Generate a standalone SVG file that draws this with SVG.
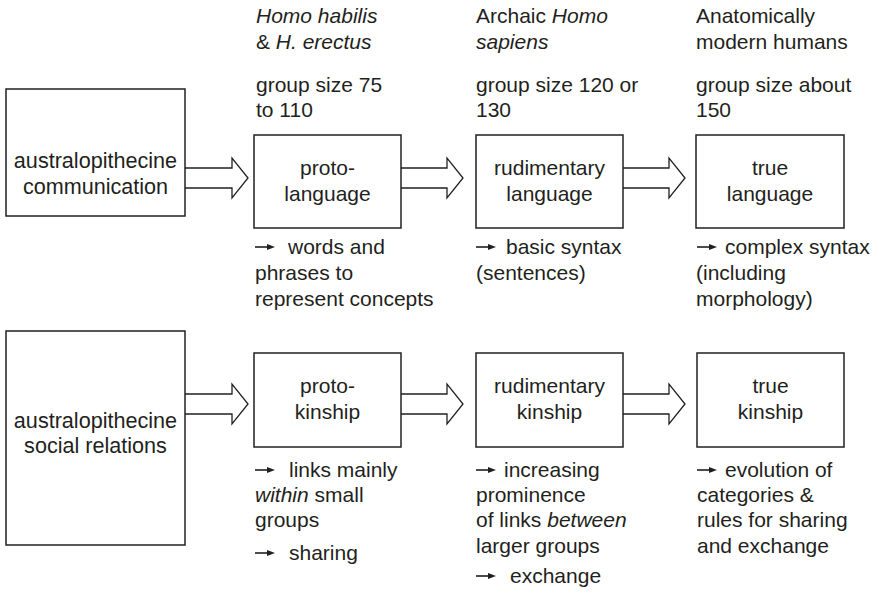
<svg xmlns="http://www.w3.org/2000/svg" xmlns:xlink="http://www.w3.org/1999/xlink" width="880" height="593" viewBox="0 0 880 593">
<style>
text{font-family:"Liberation Sans",Arial,sans-serif;font-size:21px;fill:#231f20}
.c{text-anchor:middle}
.i{font-style:italic}
.big{font-size:21.6px}
.box{fill:#fff;stroke:#231f20;stroke-width:1.5}
.blk{fill:#fff;stroke:#231f20;stroke-width:1.3;stroke-linejoin:miter}
</style>
<defs>
<g id="sa"><line x1="0" y1="0" x2="14" y2="0" stroke="#231f20" stroke-width="1.6"/><polygon points="12,-3 20,0 12,3" fill="#231f20"/></g>
</defs>
<rect width="880" height="593" fill="#fff"/>
<g id="headers">
<text x="256" y="23" class="i">Homo habilis</text>
<text x="256" y="49">&amp; <tspan class="i">H. erectus</tspan></text>
<text x="256" y="92">group size 75</text>
<text x="256" y="117">to 110</text>
<text x="476" y="23">Archaic <tspan class="i">Homo</tspan></text>
<text x="476" y="49" class="i">sapiens</text>
<text x="476" y="92">group size 120 or</text>
<text x="476" y="117">130</text>
<text x="696" y="23">Anatomically</text>
<text x="696" y="49">modern humans</text>
<text x="696" y="92">group size about</text>
<text x="696" y="117">150</text>
</g>
<g id="connectors">
<path class="blk" d="M185,168 H232 V158 L248,178 L232,198 V188 H185"/>
<path class="blk" d="M401,168 H447 V158 L463,178 L447,198 V188 H401"/>
<path class="blk" d="M623,168 H669 V158 L685,178 L669,198 V188 H623"/>
<path class="blk" d="M185,394 H232 V384 L248,404 L232,424 V414 H185"/>
<path class="blk" d="M401,394 H447 V384 L463,404 L447,424 V414 H401"/>
<path class="blk" d="M623,394 H669 V384 L685,404 L669,424 V414 H623"/>
</g>
<g id="aus-comm">
<rect class="box" x="6" y="89" width="179" height="127"/>
<text x="95.5" y="168" class="c big">australopithecine</text>
<text x="95.5" y="194" class="c big">communication</text>
</g>
<g id="proto-language">
<rect class="box" x="254" y="135" width="147" height="93"/>
<text x="327.5" y="175" class="c">proto-</text>
<text x="327.5" y="201" class="c">language</text>
</g>
<g id="rud-language">
<rect class="box" x="476" y="135" width="147" height="93"/>
<text x="549.5" y="175" class="c">rudimentary</text>
<text x="549.5" y="201" class="c">language</text>
</g>
<g id="true-language">
<rect class="box" x="696" y="135" width="148" height="93"/>
<text x="770" y="175" class="c">true</text>
<text x="770" y="201" class="c">language</text>
</g>
<g id="aus-social">
<rect class="box" x="6" y="331" width="179" height="214"/>
<text x="95.5" y="428" class="c big">australopithecine</text>
<text x="95.5" y="453" class="c big">social relations</text>
</g>
<g id="proto-kinship">
<rect class="box" x="254" y="353" width="147" height="94"/>
<text x="327.5" y="393" class="c">proto-</text>
<text x="327.5" y="419" class="c">kinship</text>
</g>
<g id="rud-kinship">
<rect class="box" x="476" y="353" width="147" height="94"/>
<text x="549.5" y="393" class="c">rudimentary</text>
<text x="549.5" y="419" class="c">kinship</text>
</g>
<g id="true-kinship">
<rect class="box" x="697" y="353" width="147" height="94"/>
<text x="770.5" y="393" class="c">true</text>
<text x="770.5" y="419" class="c">kinship</text>
</g>
<g id="notes">
<use xlink:href="#sa" x="255" y="247"/>
<text x="288" y="254">words and</text>
<text x="255" y="280">phrases to</text>
<text x="255" y="306">represent concepts</text>
<use xlink:href="#sa" x="476" y="247"/>
<text x="506" y="254">basic syntax</text>
<text x="476" y="280">(sentences)</text>
<use xlink:href="#sa" x="697" y="247"/>
<text x="725" y="254">complex syntax</text>
<text x="696" y="280">(including</text>
<text x="696" y="306">morphology)</text>
<use xlink:href="#sa" x="255" y="470"/>
<text x="289" y="477">links mainly</text>
<text x="255" y="502"><tspan class="i">within</tspan> small</text>
<text x="255" y="527">groups</text>
<use xlink:href="#sa" x="255" y="553"/>
<text x="289" y="560">sharing</text>
<use xlink:href="#sa" x="476" y="470"/>
<text x="504" y="477">increasing</text>
<text x="476" y="502">prominence</text>
<text x="476" y="527">of links <tspan class="i">between</tspan></text>
<text x="476" y="553">larger groups</text>
<use xlink:href="#sa" x="476" y="576"/>
<text x="510" y="583">exchange</text>
<use xlink:href="#sa" x="697" y="470"/>
<text x="725" y="477">evolution of</text>
<text x="697" y="502">categories &amp;</text>
<text x="697" y="527">rules for sharing</text>
<text x="697" y="553">and exchange</text>
</g>
</svg>
